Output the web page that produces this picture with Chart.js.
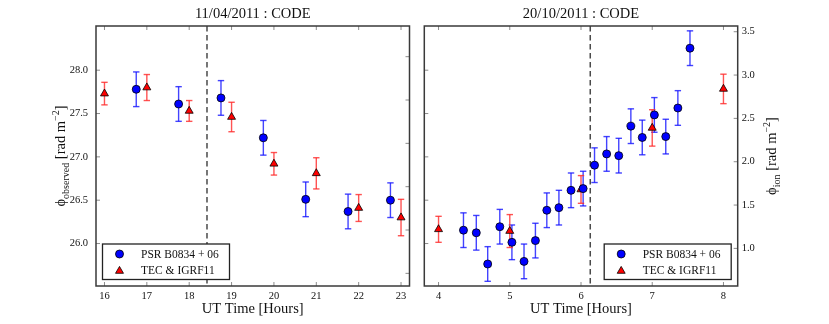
<!DOCTYPE html>
<html><head><meta charset="utf-8">
<script src="https://cdn.jsdelivr.net/npm/chart.js@4.4.0/dist/chart.umd.min.js"></script>
<style>
html,body{margin:0;padding:0;background:#fff;}
#wrap{position:relative;width:829px;height:324px;background:#fff;}
canvas{position:absolute;left:0;top:0;}
</style></head><body>
<div id="wrap"><canvas id="cA" width="829" height="324"></canvas><canvas id="cB" width="829" height="324"></canvas></div>
<script>
// ---------- data ----------
const leftTitle = '11/04/2011 : CODE';
const rightTitle = '20/10/2011 : CODE';
const xAxisLabel = 'UT Time [Hours]';
const legendLabels = ['PSR B0834 + 06', 'TEC & IGRF11'];

const leftPsrTime = [16.75, 17.75, 18.75, 19.75, 20.75, 21.75, 22.75];
const leftPsrPhi  = [27.78, 27.61, 27.68, 27.22, 26.51, 26.37, 26.50];
const leftPsrErr  = [0.20, 0.20, 0.20, 0.20, 0.20, 0.20, 0.20];
const leftTecTime = [16, 17, 18, 19, 20, 21, 22, 23];
const leftTecPhi  = [27.73, 27.80, 27.53, 27.46, 26.92, 26.81, 26.41, 26.30];
const leftTecErr  = [0.13, 0.15, 0.12, 0.17, 0.13, 0.18, 0.155, 0.21];
const leftDashedTime = 18.42;

const rightPsrTime = [4.35, 4.53, 4.69, 4.86, 5.03, 5.20, 5.36, 5.52, 5.69, 5.86, 6.03, 6.19, 6.36, 6.53, 6.70, 6.86, 7.03, 7.19, 7.36, 7.53];
const rightPsrPhi  = [1.21, 1.18, 0.82, 1.25, 1.07, 0.85, 1.09, 1.44, 1.47, 1.67, 1.69, 1.96, 2.09, 2.07, 2.41, 2.28, 2.54, 2.29, 2.62, 3.31];
const rightPsrErr  = [0.20, 0.20, 0.20, 0.20, 0.20, 0.20, 0.20, 0.20, 0.20, 0.20, 0.20, 0.20, 0.20, 0.20, 0.20, 0.20, 0.20, 0.20, 0.20, 0.20];
const rightTecTime = [4, 5, 6, 7, 8];
const rightTecPhi  = [1.22, 1.20, 1.68, 2.39, 2.84];
const rightTecErr  = [0.15, 0.19, 0.16, 0.21, 0.17];
const rightDashedTime = 6.13;

const leftXTicks  = [16, 17, 18, 19, 20, 21, 22, 23];
const rightXTicks = [4, 5, 6, 7, 8];
const observedTicks = [26.0, 26.5, 27.0, 27.5, 28.0];
const ionTicks = [1.0, 1.5, 2.0, 2.5, 3.0, 3.5];

// ---------- helpers ----------
const FONT = "'Liberation Serif', 'DejaVu Serif', serif";
Chart.defaults.font.family = FONT;
Chart.defaults.color = '#111';

function pts(xs, ys){ return xs.map((x,i)=>({x:x, y:ys[i]})); }

function line(ctx,x1,y1,x2,y2){ ctx.beginPath(); ctx.moveTo(x1,y1); ctx.lineTo(x2,y2); ctx.stroke(); }

function drawMarker(ctx, style, x, y, r, fill){
  ctx.save(); ctx.fillStyle=fill; ctx.strokeStyle='#000'; ctx.lineWidth=0.8;
  ctx.beginPath();
  if(style==='circle'){ ctx.arc(x,y,r,0,Math.PI*2); }
  else { for(let k=0;k<3;k++){ const a=-Math.PI/2+k*2*Math.PI/3; const px=x+r*Math.cos(a), py=y+r*Math.sin(a); if(k===0) ctx.moveTo(px,py); else ctx.lineTo(px,py);} ctx.closePath(); }
  ctx.fill(); ctx.stroke(); ctx.restore();
}

function drawYLabel(ctx, cx, cy, sub){
  const big = "14.5px " + FONT, small = "10px " + FONT;
  const parts = [
    {t:'\u03D5', f:big, dy:0},
    {t:sub, f:small, dy:3.5},
    {t:' [rad m', f:big, dy:0},
    {t:'\u22122', f:small, dy:-6},
    {t:']', f:big, dy:0}
  ];
  ctx.save();
  let w=0; parts.forEach(p=>{ ctx.font=p.f; p.w=ctx.measureText(p.t).width; w+=p.w; });
  ctx.translate(cx, cy); ctx.rotate(-Math.PI/2);
  ctx.fillStyle='#111'; ctx.textBaseline='alphabetic'; ctx.textAlign='left';
  let x=-w/2;
  parts.forEach(p=>{ ctx.font=p.f; ctx.fillText(p.t, x, 5+p.dy); x+=p.w; });
  ctx.restore();
}

function makeDecor(o){
  return {
    id:'decor',
    beforeDatasetsDraw(chart){
      const ctx=chart.ctx, a=chart.chartArea, xs=chart.scales.x;
      // dashed line
      ctx.save(); ctx.strokeStyle='#4a4a4a'; ctx.lineWidth=1.5; ctx.setLineDash([5.5,3.5]);
      const dx=xs.getPixelForValue(o.dashed);
      line(ctx,dx,a.top,dx,a.bottom); ctx.restore();
      // error bars
      chart.data.datasets.forEach((ds,i)=>{
        const meta=chart.getDatasetMeta(i);
        const sx=chart.scales[meta.xAxisID], sy=chart.scales[meta.yAxisID];
        ctx.save(); ctx.strokeStyle=ds.errColor; ctx.lineWidth=1.4;
        ds.data.forEach((p,j)=>{
          const e=ds.errors[j], px=sx.getPixelForValue(p.x);
          const y1=sy.getPixelForValue(p.y-e), y2=sy.getPixelForValue(p.y+e);
          line(ctx,px,y1,px,y2); line(ctx,px-3.2,y1,px+3.2,y1); line(ctx,px-3.2,y2,px+3.2,y2);
        });
        ctx.restore();
      });
    },
    afterDatasetsDraw(chart){
      const ctx=chart.ctx, a=chart.chartArea, xs=chart.scales.x;
      // inward ticks
      ctx.save(); ctx.strokeStyle='#8c8c8c'; ctx.lineWidth=1;
      o.xTicks.forEach(v=>{ const px=xs.getPixelForValue(v); line(ctx,px,a.bottom,px,a.bottom-4); line(ctx,px,a.top,px,a.top+4); });
      const sl=chart.scales[o.leftScale], sr=chart.scales[o.rightScale];
      o.leftTicks.forEach(v=>{ const py=sl.getPixelForValue(v); line(ctx,a.left,py,a.left+4,py); });
      o.rightTicks.forEach(v=>{ const py=sr.getPixelForValue(v); line(ctx,a.right,py,a.right-4,py); });
      ctx.restore();
      // frame
      ctx.save(); ctx.strokeStyle='#3a3a3a'; ctx.lineWidth=1.5;
      ctx.strokeRect(a.left,a.top,a.right-a.left,a.bottom-a.top); ctx.restore();
      // legend
      const bw=127, bh=35.5;
      const bx = o.legendSide==='left' ? a.left+6.5 : a.right-6.5-bw;
      const by = a.bottom-6.5-bh;
      ctx.save(); ctx.fillStyle='#fff'; ctx.fillRect(bx,by,bw,bh);
      ctx.strokeStyle='#222'; ctx.lineWidth=1.3; ctx.strokeRect(bx,by,bw,bh);
      drawMarker(ctx,'circle',bx+17,by+10,4,'#0000ff');
      drawMarker(ctx,'triangle',bx+17,by+27,4.6,'#ff0000');
      ctx.fillStyle='#111'; ctx.font="11.5px "+FONT; ctx.textBaseline='middle'; ctx.textAlign='left';
      ctx.fillText(legendLabels[0], bx+38.5, by+10.5);
      ctx.fillText(legendLabels[1], bx+38.5, by+27);
      ctx.restore();
      // title and x label
      const cx=(a.left+a.right)/2;
      ctx.save(); ctx.fillStyle='#111'; ctx.textAlign='center'; ctx.textBaseline='alphabetic';
      ctx.font="14.5px "+FONT; ctx.fillText(o.title, cx, 18);
      ctx.fillText(xAxisLabel, cx, 312.5);
      ctx.restore();
      // y label
      drawYLabel(ctx, o.yLabelX, (a.top+a.bottom)/2, o.yLabelSub);
    }
  };
}

function baseX(min,max,ticks){
  return { type:'linear', min:min, max:max,
    afterBuildTicks(s){ s.ticks = ticks.map(v=>({value:v})); },
    afterFit(s){ s.height=38; },
    grid:{display:false, drawTicks:false}, border:{display:false},
    ticks:{ font:{size:10.5}, padding:4, color:'#111', callback:v=>String(v) } };
}

const common = { responsive:false, animation:false, events:[],
  plugins:{ legend:{display:false}, tooltip:{enabled:false}, title:{display:false} } };

// ---------- left chart ----------
new Chart(document.getElementById('cA'), {
  type:'scatter',
  data:{ datasets:[
    { label:legendLabels[0], data:pts(leftPsrTime,leftPsrPhi), errors:leftPsrErr, errColor:'rgba(20,20,255,0.8)',
      pointStyle:'circle', pointRadius:4, backgroundColor:'#0000ff', borderColor:'#000', borderWidth:0.8, yAxisID:'y' },
    { label:legendLabels[1], data:pts(leftTecTime,leftTecPhi), errors:leftTecErr, errColor:'rgba(255,40,40,0.8)',
      pointStyle:'triangle', pointRadius:4.6, backgroundColor:'#ff0000', borderColor:'#000', borderWidth:0.8, yAxisID:'y' }
  ]},
  options:Object.assign({}, common, {
    layout:{ padding:{ left:0, right:829-409.5, top:26, bottom:0 } },
    scales:{
      x: baseX(15.8, 23.2, leftXTicks),
      y: { type:'linear', position:'left', min:25.51, max:28.51,
        afterBuildTicks(s){ s.ticks = observedTicks.map(v=>({value:v})); },
        afterFit(s){ s.width=96; },
        grid:{display:false, drawTicks:false}, border:{display:false},
        ticks:{ font:{size:10.5}, padding:8, color:'#111', callback:v=>Number(v).toFixed(1) } },
      yT: { type:'linear', position:'right', min:0.854, max:3.854,
        afterFit(s){ s.width=0; },
        grid:{display:false, drawTicks:false}, border:{display:false}, ticks:{display:false} }
    }
  }),
  plugins:[ makeDecor({ dashed:leftDashedTime, xTicks:leftXTicks, leftScale:'y', leftTicks:observedTicks,
    rightScale:'yT', rightTicks:ionTicks, legendSide:'left', title:leftTitle, yLabelX:60, yLabelSub:'observed' }) ]
});

// ---------- right chart ----------
new Chart(document.getElementById('cB'), {
  type:'scatter',
  data:{ datasets:[
    { label:legendLabels[0], data:pts(rightPsrTime,rightPsrPhi), errors:rightPsrErr, errColor:'rgba(20,20,255,0.8)',
      pointStyle:'circle', pointRadius:4, backgroundColor:'#0000ff', borderColor:'#000', borderWidth:0.8, yAxisID:'yR' },
    { label:legendLabels[1], data:pts(rightTecTime,rightTecPhi), errors:rightTecErr, errColor:'rgba(255,40,40,0.8)',
      pointStyle:'triangle', pointRadius:4.6, backgroundColor:'#ff0000', borderColor:'#000', borderWidth:0.8, yAxisID:'yR' }
  ]},
  options:Object.assign({}, common, {
    layout:{ padding:{ left:424.3, right:0, top:26, bottom:0 } },
    scales:{
      x: baseX(3.8, 8.2, rightXTicks),
      yL: { type:'linear', position:'left', min:25.51, max:28.51,
        afterFit(s){ s.width=0; },
        grid:{display:false, drawTicks:false}, border:{display:false}, ticks:{display:false} },
      yR: { type:'linear', position:'right', min:0.566, max:3.566,
        afterBuildTicks(s){ s.ticks = ionTicks.map(v=>({value:v})); },
        afterFit(s){ s.width=829-737.7; },
        grid:{display:false, drawTicks:false}, border:{display:false},
        ticks:{ font:{size:10.5}, padding:4, color:'#111', callback:v=>Number(v).toFixed(1) } }
    }
  }),
  plugins:[ makeDecor({ dashed:rightDashedTime, xTicks:rightXTicks, leftScale:'yL', leftTicks:observedTicks,
    rightScale:'yR', rightTicks:ionTicks, legendSide:'right', title:rightTitle, yLabelX:771, yLabelSub:'ion' }) ]
});
</script>
</body></html>
